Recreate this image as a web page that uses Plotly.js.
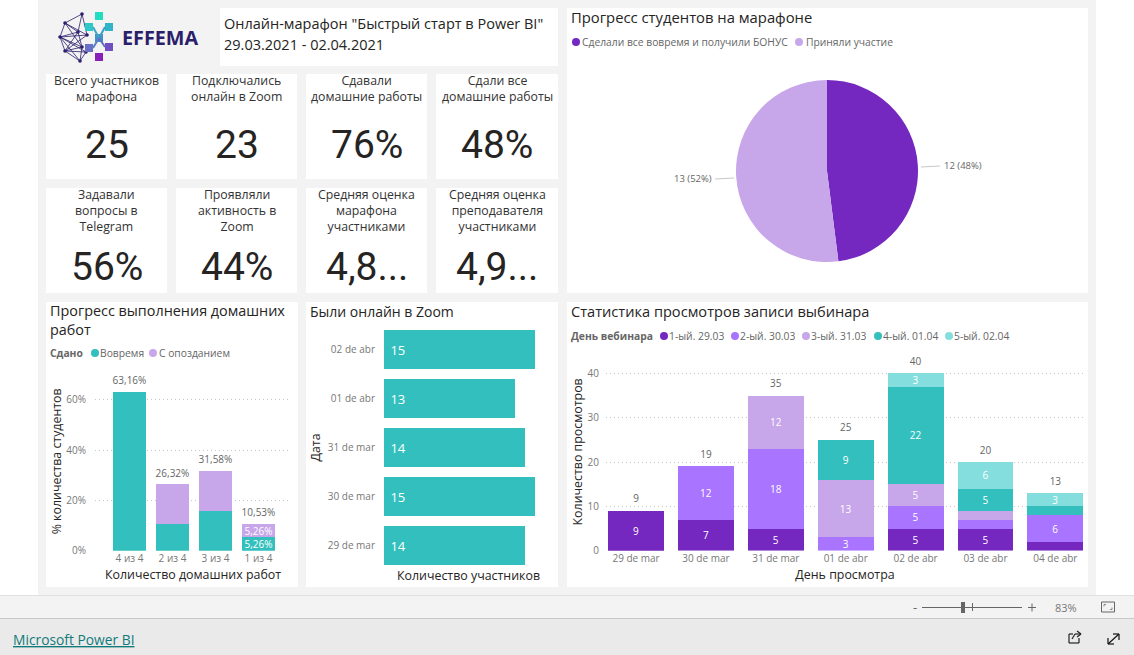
<!DOCTYPE html>
<html>
<head>
<meta charset="utf-8">
<script src="https://cdn.plot.ly/plotly-3.0.1.min.js"></script>
<style>html,body{margin:0;padding:0;background:#fff;overflow:hidden}#c{width:1134px;height:655px}</style>
</head>
<body>
<div id="c"></div>
<script>
// ---------- data ----------
const hwCategories = ['4 из 4', '2 из 4', '3 из 4', '1 из 4'];
const hwOnTime = [63.16, 10.53, 15.79, 5.26];
const hwLate = [0, 15.79, 15.79, 5.26];
const hwTotals = [63.16, 26.32, 31.58, 10.53];
const hwTickVals = [0, 20, 40, 60];
const hwTickText = ['0%', '20%', '40%', '60%'];

const zoomDates = ['29 de mar', '30 de mar', '31 de mar', '01 de abr', '02 de abr'];
const zoomCounts = [14, 15, 14, 13, 15];

const viewDays = ['29 de mar', '30 de mar', '31 de mar', '01 de abr', '02 de abr', '03 de abr', '04 de abr'];
const webinar1 = [9, 7, 5, 0, 5, 5, 2];
const webinar2 = [0, 12, 18, 3, 5, 2, 6];
const webinar3 = [0, 0, 12, 13, 5, 2, 0];
const webinar4 = [0, 0, 0, 9, 22, 5, 2];
const webinar5 = [0, 0, 0, 0, 3, 6, 3];
const viewTotals = [9, 19, 35, 25, 40, 20, 13];

const pieLabels = ['Сделали все вовремя и получили БОНУС', 'Приняли участие'];
const pieValues = [12, 13];

const row1Titles = ['Всего участников<br>марафона', 'Подключались<br>онлайн в Zoom', 'Сдавали<br>домашние работы', 'Сдали все<br>домашние работы'];
const row1Values = ['25', '23', '76%', '48%'];
const row2Titles = ['Задавали<br>вопросы в<br>Telegram', 'Проявляли<br>активность в<br>Zoom', 'Средняя оценка<br>марафона<br>участниками', 'Средняя оценка<br>преподавателя<br>участниками'];
const row2Values = ['56%', '44%', '4,8...', '4,9...'];

// ---------- helpers ----------
const W = 1134, H = 655;
const FONT = '"Open Sans","Noto Sans",sans-serif';
const NUM = 'Roboto,"Open Sans",sans-serif';
const TEAL = '#33bfbd', LILAC = '#c8a6ea', DARK = '#7428bf', VIOLET = '#a974ff', AQUA = '#84dedd';
const GREY = '#666666', INK = '#252423';
const px = x => x / W, py = y => 1 - y / H;
const shapes = [], annotations = [];
function rect(x0, y0, x1, y1, fill) {
  shapes.push({type:'rect', xref:'paper', yref:'paper', x0:px(x0), x1:px(x1), y0:py(y0), y1:py(y1), fillcolor:fill, line:{width:0}, layer:'below'});
}
function seg(x0, y0, x1, y1, color, w) {
  shapes.push({type:'line', xref:'paper', yref:'paper', x0:px(x0), x1:px(x1), y0:py(y0), y1:py(y1), line:{color:color, width:w||1}, layer:'below'});
}
function dot(x, y, r, fill) {
  shapes.push({type:'circle', xref:'paper', yref:'paper', x0:px(x-r), x1:px(x+r), y0:py(y-r), y1:py(y+r), fillcolor:fill, line:{width:0}, layer:'below'});
}
function txt(x, y, text, size, color, anchor, family) {
  annotations.push({xref:'paper', yref:'paper', x:px(x), y:py(y), text:text, showarrow:false,
    xanchor:anchor||'left', yanchor:'middle', align:anchor==='center'?'center':'left',
    font:{size:size, color:color, family:family||FONT}, borderpad:0, borderwidth:0});
}

// ---------- page frame ----------
rect(38, 0, 1096, 595, '#f3f3f3');
rect(0, 596, W, 618, '#f3f3f3');
seg(0, 595.5, W, 595.5, '#e0e0e0');
rect(0, 619, W, H, '#eaeaea');
seg(0, 618.5, W, 618.5, '#c8c8c8');

// panels
rect(220, 8, 558, 66, '#ffffff');
rect(567, 8, 1088, 293, '#ffffff');
rect(46, 302, 298, 587, '#ffffff');
rect(306, 302, 558, 587, '#ffffff');
rect(567, 302, 1088, 587, '#ffffff');

// ---------- logo ----------
const nodes = [[82,14],[65,23],[78,32],[87,35],[60,37],[82,47],[65,51],[86,52],[80,61]];
const links = [[0,1],[0,2],[0,3],[1,2],[1,3],[1,4],[2,4],[2,5],[3,4],[4,5],[4,6],[4,7],[4,8],[5,6],[6,7],[6,8],[5,8],[7,8],[3,6],[2,6],[1,5]];
links.forEach(l => seg(nodes[l[0]][0], nodes[l[0]][1], nodes[l[1]][0], nodes[l[1]][1], '#2b1e6b', 0.8));
nodes.forEach(n => dot(n[0], n[1], 1.8, '#2b1e6b'));
[[99,16,'#22dcc0'],[109,27,'#2fb4c8'],[99,38,'#4a8fc8'],[89,27,'#2fc8c8'],[89,48,'#6a70c8'],[109,47,'#7050c0'],[99,57,'#8a20b8']]
  .forEach(s => rect(s[0]-4, s[1]-4, s[0]+4, s[1]+4, s[2]));
seg(93,27,99,38,'#3fa8c8',2); seg(105,27,99,38,'#3f9cc8',2); seg(99,38,93,48,'#5a80c8',2); seg(99,38,105,47,'#5a70c8',2);
txt(122, 38, '<b>EFFEMA</b>', 19.8, '#2b1e6b', 'left', '"Open Sans",sans-serif');

// ---------- header & cards ----------
txt(224, 24, 'Онлайн-марафон "Быстрый старт в Power BI"', 14.5, INK);
txt(224, 44, '29.03.2021 - 02.04.2021', 14.5, INK);

const colX = [[46,167],[176,297],[306,427],[436,558]];
colX.forEach((c, i) => {
  const cx = (c[0] + c[1]) / 2;
  rect(c[0], 74, c[1], 179, '#ffffff');
  rect(c[0], 188, c[1], 293, '#ffffff');
  txt(cx, 89, row1Titles[i], 12.3, '#333333', 'center');
  txt(cx, 210.5, row2Titles[i], 12.3, '#333333', 'center');
  txt(cx, 144.5, row1Values[i], 39, INK, 'center', NUM);
  txt(cx, 266.5, row2Values[i], 39, INK, 'center', NUM);
});

// ---------- panel titles & legends ----------
txt(571, 17, 'Прогресс студентов на марафоне', 14.8, INK);
dot(576, 42, 4, DARK);
txt(582, 42, pieLabels[0], 10.3, GREY);
dot(799, 42, 4, LILAC);
txt(806, 42, pieLabels[1], 10.3, GREY);

txt(50, 320, 'Прогресс выполнения домашних<br>работ', 14.4, INK);
txt(50, 353, '<b>Сдано</b>', 10.3, GREY);
dot(95, 353, 4, TEAL);
txt(100, 353, 'Вовремя', 10.3, GREY);
dot(153, 353, 4, LILAC);
txt(159, 353, 'С опозданием', 10.3, GREY);

txt(310, 311, 'Были онлайн в Zoom', 14, INK);

txt(571, 311, 'Статистика просмотров записи выбинара', 14.6, INK);
txt(571, 336, '<b>День вебинара</b>', 10.3, GREY);
[['1-ый. 29.03',DARK,664],['2-ый. 30.03',VIOLET,735],['3-ый. 31.03',LILAC,806],['4-ый. 01.04',TEAL,878],['5-ый. 02.04',AQUA,949]].forEach(l => {
  dot(l[2], 336, 4, l[1]);
  txt(l[2]+5, 336, l[0], 10.3, GREY);
});

// ---------- pie labels ----------
const pieSum = pieValues[0] + pieValues[1];
txt(944, 166, pieValues[0] + ' (' + Math.round(pieValues[0] / pieSum * 100) + '%)', 9.5, GREY);
txt(712, 179, pieValues[1] + ' (' + Math.round(pieValues[1] / pieSum * 100) + '%)', 9.5, GREY, 'right');
seg(921, 167, 940, 166, '#c8c8c8');
seg(715, 179, 734, 178, '#c8c8c8');

// ---------- footer ----------
txt(13, 639, '<u>Microsoft Power BI</u>', 13.8, '#117a7a');
txt(915, 607, '-', 13, '#666666', 'center');
seg(922, 607.5, 1022, 607.5, '#666666');
rect(961, 602, 965, 613, '#666666');
seg(972.5, 603, 972.5, 611, '#666666');
seg(1028, 607.5, 1036, 607.5, '#666666');
seg(1032, 603.5, 1032, 611.5, '#666666');
txt(1066, 607, '83%', 11, '#777777', 'center');
// fit-to-page icon
shapes.push({type:'rect', xref:'paper', yref:'paper', x0:px(1101.5), x1:px(1114.5), y0:py(602), y1:py(612), line:{color:'#666666', width:1}, layer:'below'});
seg(1104, 604.5, 1106, 604.5, '#888888'); seg(1104, 604.5, 1104, 606.5, '#888888');
seg(1110, 609.5, 1112, 609.5, '#888888'); seg(1112, 607.5, 1112, 609.5, '#888888');
// share icon
seg(1069, 634, 1073, 634, '#222222', 1.2); seg(1069, 634, 1069, 643, '#222222', 1.2);
seg(1069, 643, 1079, 643, '#222222', 1.2); seg(1079, 643, 1079, 638, '#222222', 1.2);
seg(1072, 639, 1075, 634, '#222222', 1.2); seg(1075, 634, 1081, 634, '#222222', 1.2);
seg(1077, 631, 1081, 634, '#222222', 1.2); seg(1077, 637, 1081, 634, '#222222', 1.2);
// expand icon
seg(1108, 644, 1119, 634, '#111111', 1.2);
seg(1113, 634, 1119, 634, '#111111', 1.2);
seg(1119, 634, 1119, 640, '#111111', 1.2);
seg(1108, 638, 1108, 644, '#111111', 1.2);
seg(1108, 644, 1114, 644, '#111111', 1.2);

// ---------- traces ----------
const tickFont = {size:10, color:'#777777', family:FONT};
const titleFont = {size:12.4, color:INK, family:FONT};
const pct = v => v.toFixed(2).replace('.', ',') + '%';
const noHover = {hoverinfo:'skip'};
const traces = [];

// pie
traces.push(Object.assign({type:'pie', labels:pieLabels, values:pieValues, sort:false, direction:'clockwise', rotation:0,
  textinfo:'none', marker:{colors:[DARK, LILAC], line:{width:0}}, domain:{x:[px(736), px(918)], y:[py(262), py(80)]}, showlegend:false}, noHover));

// homework
traces.push(Object.assign({type:'bar', x:hwCategories, y:hwOnTime, xaxis:'x', yaxis:'y', width:0.77, marker:{color:TEAL},
  text:hwOnTime.map((v,i)=> i===3 ? pct(v) : ''), textposition:'inside', insidetextanchor:'middle', textangle:0, constraintext:'none',
  textfont:{size:10, color:'#ffffff', family:FONT}}, noHover));
traces.push(Object.assign({type:'bar', x:hwCategories, y:hwLate, xaxis:'x', yaxis:'y', width:0.77, marker:{color:LILAC},
  text:hwLate.map((v,i)=> i===3 ? pct(v) : ''), textposition:'inside', insidetextanchor:'middle', textangle:0, constraintext:'none',
  textfont:{size:10, color:'#ffffff', family:FONT}}, noHover));
traces.push(Object.assign({type:'scatter', mode:'markers+text', x:hwCategories, y:hwTotals, xaxis:'x', yaxis:'y', text:hwTotals.map(pct),
  marker:{size:7, opacity:0}, textposition:'top center', textfont:{size:10, color:GREY, family:FONT}, cliponaxis:false}, noHover));

// zoom attendance
traces.push(Object.assign({type:'bar', orientation:'h', x:zoomCounts, y:zoomDates, xaxis:'x2', yaxis:'y2', width:0.8, marker:{color:TEAL},
  text:zoomCounts.map(v => '\u00a0' + v), textposition:'inside', insidetextanchor:'start', textangle:0, constraintext:'none',
  textfont:{size:13, color:'#ffffff', family:FONT}}, noHover));

// views
[[webinar1,DARK],[webinar2,VIOLET],[webinar3,LILAC],[webinar4,TEAL],[webinar5,AQUA]].forEach(s => {
  traces.push(Object.assign({type:'bar', x:viewDays, y:s[0], xaxis:'x3', yaxis:'y3', width:0.8, marker:{color:s[1]},
    text:s[0].map(v => v >= 3 ? String(v) : ''), textposition:'inside', insidetextanchor:'middle', textangle:0, constraintext:'none',
    textfont:{size:10, color:'#ffffff', family:FONT}}, noHover));
});
traces.push(Object.assign({type:'scatter', mode:'markers+text', x:viewDays, y:viewTotals, xaxis:'x3', yaxis:'y3', text:viewTotals.map(String),
  marker:{size:8, opacity:0}, textposition:'top center', textfont:{size:10, color:GREY, family:FONT}, cliponaxis:false}, noHover));

// ---------- layout ----------
const dom = (a, b) => [px(a), px(b)];
const domY = (top, bottom) => [py(bottom), py(top)];
const grid = {showgrid:true, gridcolor:'#c8c8c8', griddash:'1px,3px', gridwidth:1, zeroline:false, showline:false, ticks:''};
const layout = {
  width:W, height:H, margin:{l:0, r:0, t:0, b:0}, autosize:false,
  paper_bgcolor:'#ffffff', plot_bgcolor:'rgba(0,0,0,0)',
  barmode:'stack', showlegend:false, font:{family:FONT},
  shapes:shapes, annotations:annotations,

  xaxis:{anchor:'y', domain:dom(95,291), type:'category', range:[-0.802,3.756], categoryorder:'array', categoryarray:hwCategories,
    showgrid:false, zeroline:false, showline:false, ticks:'', tickfont:tickFont, title:{text:'Количество домашних работ', font:titleFont, standoff:6}},
  yaxis:Object.assign({anchor:'x', domain:domY(372,550.7), range:[0,71], tickmode:'array', tickvals:hwTickVals, ticktext:hwTickText, tickfont:tickFont,
    ticklabelstandoff:8, title:{text:'% количества студентов', font:titleFont, standoff:1}}, grid),

  xaxis2:{anchor:'y2', domain:dom(384,553), range:[0,16.8], showgrid:false, zeroline:false, showline:false, showticklabels:false, ticks:'',
    title:{text:'Количество участников', font:titleFont, standoff:1}},
  yaxis2:{anchor:'x2', domain:domY(325,570), type:'category', categoryorder:'array', categoryarray:zoomDates, showgrid:false, zeroline:false, showline:false, ticks:'',
    tickfont:tickFont, ticklabelstandoff:8, title:{text:'Дата', font:titleFont, standoff:4}},

  xaxis3:{anchor:'y3', domain:dom(606,1084), type:'category', range:[-0.43,6.41], categoryorder:'array', categoryarray:viewDays,
    showgrid:false, zeroline:false, showline:false, ticks:'', tickfont:tickFont, title:{text:'День просмотра', font:titleFont, standoff:6}},
  yaxis3:Object.assign({anchor:'x3', domain:domY(353,550.7), range:[0,44.6], tickvals:[0,10,20,30,40], tickfont:tickFont,
    ticklabelstandoff:6, title:{text:'Количество просмотров', font:titleFont, standoff:2}}, grid)
};
Plotly.newPlot('c', traces, layout, {displayModeBar:false, staticPlot:true});
</script>
</body>
</html>
